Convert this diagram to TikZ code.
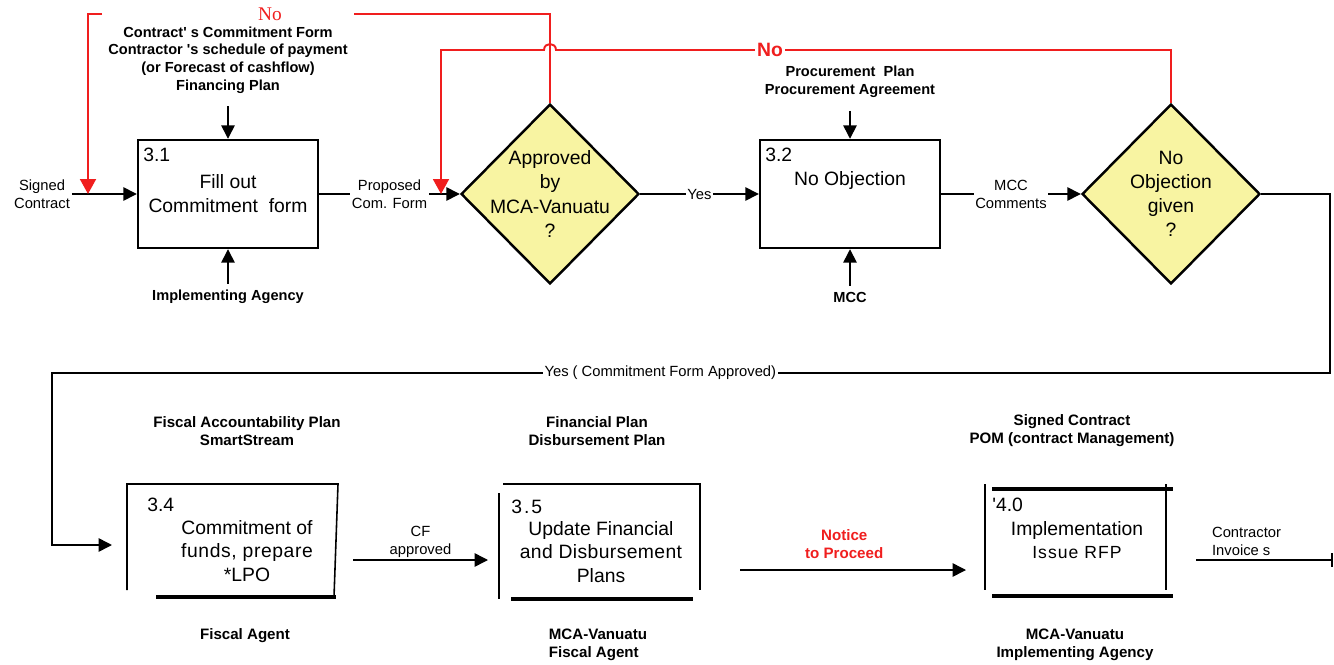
\documentclass[tikz,border=0pt]{standalone}
\usepackage{fontspec}
\setmainfont{Liberation Sans}
\newfontfamily\serifno{Liberation Serif}
\usetikzlibrary{shapes.geometric, arrows.meta, calc}
\definecolor{askyellow}{HTML}{F8F4A2}
\definecolor{loopred}{HTML}{F01E1E}

\begin{document}
\begin{tikzpicture}[
  x=0.02cm, y=-0.02cm,
  proc/.style={
    rectangle,
    draw,
    line width=1.4pt,
    minimum width=3.6cm,
    minimum height=2.16cm,
    align=center,
    font=\fontsize{11}{13.7}\selectfont
  },
  ask/.style={
    diamond,
    draw,
    line width=1.4pt,
    fill=askyellow,
    minimum width=3.56cm,
    minimum height=3.6cm,
    inner sep=-7pt,
    align=center,
    font=\fontsize{11}{13.7}\selectfont
  },
  boxnum/.style={anchor=north west, inner xsep=3.5pt, inner ysep=5pt, font=\fontsize{11}{13}\selectfont},
  sheet/.style={align=center, font=\fontsize{11}{13.5}\selectfont},
  num/.style={anchor=west, inner sep=0pt, font=\fontsize{11}{13}\selectfont},
  note/.style={align=center, font=\bfseries\fontsize{8.3}{10}\selectfont},
  tag/.style={align=center, font=\bfseries\fontsize{8.6}{10.3}\selectfont},
  flow/.style={align=center, inner sep=1pt, font=\fontsize{8.4}{10.3}\selectfont},
  arr/.style={-{Triangle[length=0.27cm, width=0.27cm]}, line width=0.85pt},
  noloop/.style={draw=loopred, line width=1.1pt},
  redarr/.style={noloop, -{Triangle[length=0.3cm, width=0.32cm]}},
  rim/.style={line width=0.9pt},
  sill/.style={line width=1.9pt}
]
  \useasboundingbox (0,0) rectangle (1334,665);

  % top row: commitment form and approvals
  \node[proc, label={[boxnum]north west:3.1}] (b31) at (228,194) {Fill out\\Commitment\ \ form};
  \node[ask] (d1) at (550,194) {Approved\\by\\MCA-Vanuatu\\?};
  \node[proc, label={[boxnum]north west:3.2}] (b32) at (850,194) {No Objection\\\strut};
  \node[ask] (d2) at (1171,194) {No\\Objection\\given\\?};

  \node[flow] (sc) at (42,194) {Signed\\Contract};
  \node[note] (in31) at (228,60) {Contract\textquotesingle\ s Commitment Form\\Contractor \textquotesingle s schedule of payment\\(or Forecast of cashflow)\\Financing Plan};
  \node[note] (ag31) at (228,297) {Implementing Agency};
  \node[note] (in32) at (850,82) {Procurement\ \ Plan\\Procurement Agreement};
  \node[note] (ag32) at (850,297) {MCC};

  \draw[arr] (sc) -- (b31);
  \draw[arr, shorten <=4pt] (in31) -- (b31);
  \draw[arr] (ag31) -- (b31);
  \draw[arr] (b31) -- node[flow, fill=white] {Proposed\\Com. Form} (d1);
  \draw[arr] (d1) -- node[flow, fill=white] {Yes} (b32);
  \draw[arr, shorten <=4pt] (in32) -- (b32);
  \draw[arr] (ag32) -- (b32);
  \draw[arr] (b32) -- node[flow, fill=white] {MCC\\Comments} (d2);

  % rejection loops
  \node[text=loopred, inner sep=0pt, font=\serifno\fontsize{11}{13}\selectfont] (no1) at (270,14) {No};
  \coordinate (ret1) at (88,194);
  \coordinate (ret2) at (441,194);
  \coordinate (hop) at (d1.north |- 0,50);
  \draw[noloop] (d1.north) |- (in31.east |- no1);
  \draw[redarr] (in31.west |- no1) -| (ret1);
  \draw[redarr] (d2.north) |- ($(hop)+(6,0)$) .. controls ($(hop)+(6,-8)$) and ($(hop)+(-6,-8)$) .. ($(hop)+(-6,0)$) -| (ret2);
  \node[text=loopred, fill=white, inner sep=1pt, font=\bfseries\fontsize{11}{13}\selectfont] (no2) at (770,50) {No};

  % approved: on to the bottom row
  \coordinate (loopr) at (1330,373);
  \coordinate (loopl) at (52,373);
  \coordinate (in34) at (112,545);
  \draw[arr, line width=0.9pt] (d2) -| (loopr) -- node[flow, fill=white, pos=0.524] {Yes ( Commitment Form Approved)} (loopl) |- (in34);

  % 3.4
  \node[sheet] (b34) at (247,551) {Commitment of\\{\addfontfeature{LetterSpace=3}funds, prepare}\\*LPO};
  \node[num] (n34) at (147,505) {3.4};
  \draw[rim] (127,590) |- (338,484) -- (334,597);
  \draw[sill] (156,597) -- (336,597);
  \node[tag] (in34t) at (247,431) {Fiscal Accountability Plan\\SmartStream};
  \node[tag] (ag34) at (245,636) {Fiscal Agent};

  % 3.5
  \node[sheet] (b35) at (601,552) {Update Financial\\{\addfontfeature{LetterSpace=2}and Disbursement}\\Plans};
  \node[num] (n35) at (511,507) {\addfontfeature{LetterSpace=10}3.5};
  \draw[rim] (499,493) -- (499,599);
  \draw[rim] (503,484) -| (700,590);
  \draw[sill] (511,599) -- (693,599);
  \node[tag] (in35) at (597,431) {Financial Plan\\Disbursement Plan};
  \node[tag, align=left] (ag35) at (598,645) {MCA-Vanuatu\\Fiscal Agent};

  % 4.0
  \node[sheet] (b40) at (1077,540) {Implementation\\{\fontsize{10}{13.5}\selectfont\addfontfeature{LetterSpace=6}Issue RFP}};
  \node[num] (n40) at (992,505) {\textquotesingle 4.0};
  \draw[rim] (985,484) -- (985,590);
  \draw[rim] (1166,484) -- (1166,590);
  \draw[sill] (992,489) -- (1173,489);
  \draw[sill] (992,596) -- (1173,596);
  \node[tag] (in40) at (1072,431) {Signed Contract\\POM (contract Management)};
  \node[tag] (ag40) at (1075,645) {MCA-Vanuatu\\Implementing Agency};

  % bottom row connectors
  \coordinate (cf1) at (353,560);
  \coordinate (cf2) at (488,560);
  \draw[arr] (cf1) -- node[flow, above] {CF\\approved} (cf2);
  \coordinate (np1) at (740,570);
  \coordinate (np2) at (966,570);
  \draw[arr] (np1) -- node[flow, above=5pt, xshift=-5pt, text=loopred, font=\bfseries\fontsize{8.6}{10.3}\selectfont] {Notice\\to Proceed} (np2);
  \coordinate (ci1) at (1196,560);
  \coordinate (ci2) at (1333,560);
  \draw[-{Bar[width=0.28cm]}, line width=0.9pt] (ci1) -- (ci2);
  \node[flow, align=left, anchor=west] (ci) at (1210,541) {Contractor\\Invoice s};
\end{tikzpicture}
\end{document}
